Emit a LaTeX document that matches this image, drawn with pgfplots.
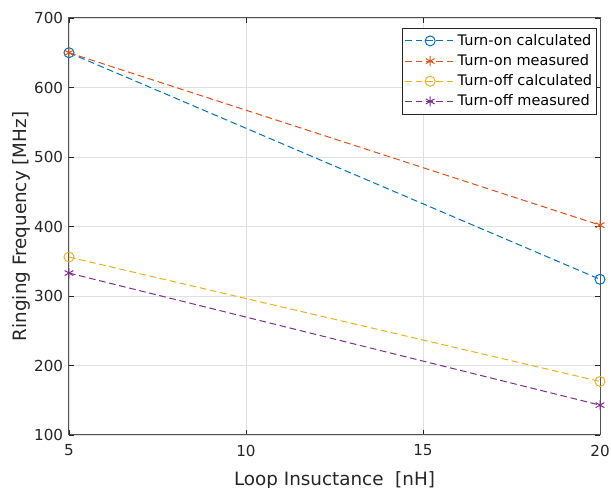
\documentclass[border=0pt]{standalone}
\usepackage{fontspec}
\setmainfont{DejaVu Sans}
\usepackage{pgfplots}
\pgfplotsset{compat=1.18}
\definecolor{c1}{rgb}{0,0.447,0.741}
\definecolor{c2}{rgb}{0.85,0.325,0.098}
\definecolor{c3}{rgb}{0.929,0.694,0.125}
\definecolor{c4}{rgb}{0.494,0.184,0.556}
\definecolor{axc}{rgb}{0.15,0.15,0.15}
\begin{document}
\begin{tikzpicture}
\begin{axis}[
    name=ax,
    width=318.6pt, height=250.2pt, scale only axis,
    xmin=5, xmax=20, ymin=100, ymax=700,
    xtick={5,10,15,20}, ytick={100,200,...,700},
    xlabel={Loop Insuctance \ [nH]},
    ylabel={Ringing Frequency [MHz]},
    xticklabel style={yshift=-2.4pt},
    xlabel style={yshift=-2pt},
    ylabel style={yshift=-4.6pt},
    grid=major,
    major grid style={draw=black!12, line width=0.5pt},
    axis line style={draw=axc!80, line width=0.6pt},
    tick style={draw=axc, line width=0.5pt},
    tick align=inside,
    major tick length=3pt,
    ticklabel style={font=\fontsize{9.1}{11}\selectfont, text=axc},
    label style={font=\fontsize{11}{13}\selectfont, text=axc},
    /pgf/number format/assume math mode=true,
    legend style={at={(1,1)}, anchor=north east, xshift=-1.8pt, yshift=-6pt,
        font=\fontsize{8.7}{10}\selectfont, draw=axc, fill=white,
        inner sep=1.5pt, row sep=0pt,
        nodes={text height=7.5pt, text depth=2.2pt, inner sep=1.2pt}},
    legend cell align=left,
    legend image code/.code={
        \draw[mark repeat=2,mark phase=2,#1] plot coordinates {(0pt,0pt) (15pt,0pt) (30pt,0pt)};
    },
    every axis plot/.append style={line width=0.6pt, dash pattern=on 4pt off 2.2pt, mark size=3pt, mark options={solid}},
]
\addplot[c1, mark=o] coordinates {(5,650) (20,324)};
\addlegendentry{Turn-on calculated}
\addplot[c2, mark=asterisk] coordinates {(5,650) (20,402)};
\addlegendentry{Turn-on measured}
\addplot[c3, mark=o] coordinates {(5,356) (20,177)};
\addlegendentry{Turn-off calculated}
\addplot[c4, mark=asterisk] coordinates {(5,333) (20,143)};
\addlegendentry{Turn-off measured}
\end{axis}
\pgfresetboundingbox
\path ([shift={(-41.4pt,-31.8pt)}]ax.south west) rectangle ([shift={(6.6pt,10.8pt)}]ax.north east);
\end{tikzpicture}
\end{document}
